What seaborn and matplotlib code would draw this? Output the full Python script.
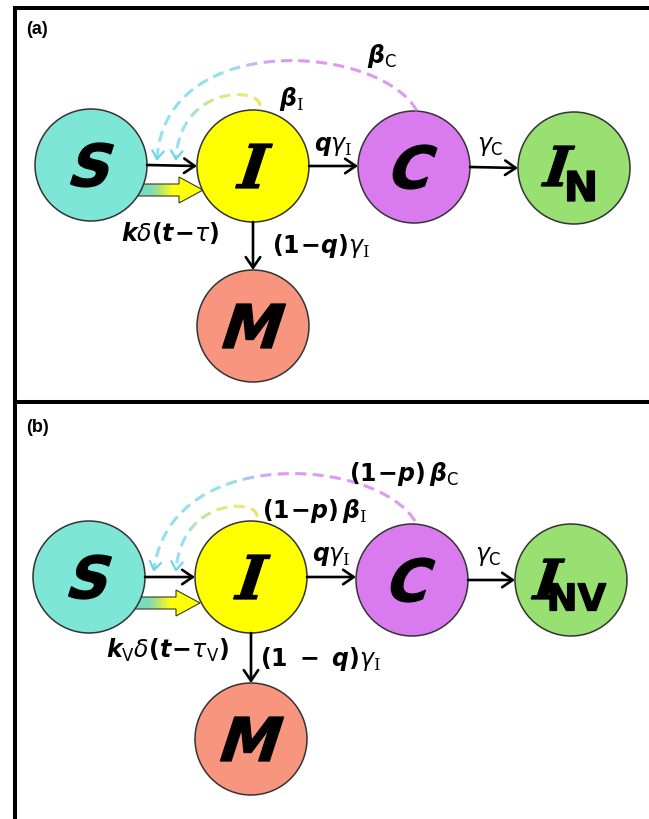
import numpy as np
import pandas as pd
import matplotlib
matplotlib.use("Agg")
import matplotlib.pyplot as plt
import seaborn as sns
from matplotlib.collections import LineCollection
from matplotlib.colors import LinearSegmentedColormap
from matplotlib.patches import Polygon, PathPatch
from matplotlib.textpath import TextPath
from matplotlib.font_manager import FontProperties
from matplotlib.transforms import Affine2D

# ---- compartments of the two model diagrams ----
node_names = ["S", "I", "C", "R", "M"]
node_main = ["S", "I", "C", "I", "M"]
node_sub_a = ["", "", "", "N", ""]
node_sub_b = ["", "", "", "NV", ""]
node_colors = ["#7de6d6", "#ffff00", "#d97bef", "#99e072", "#f8957f"]

node_x_a = [91, 253, 414, 574, 253]
node_y_a = [166, 167, 168, 169, 327]
node_x_b = [89, 251, 412, 571, 251]
node_y_b = [578, 578, 581, 581, 740]

# ---- transition rate labels ----
rates_a = [
    r"$\boldsymbol{\beta}_{\mathrm{C}}$",
    r"$\boldsymbol{\beta}_{\mathsf{I}}$",
    r"$\boldsymbol{q}\gamma_{\mathsf{I}}$",
    r"$\gamma_{\mathrm{C}}$",
    r"$\mathbf{(1\!-\!}\boldsymbol{q}\mathbf{)}\gamma_{\mathsf{I}}$",
    r"$\boldsymbol{k}\delta\mathbf{(}\boldsymbol{t}\mathbf{\!-\!}\tau\mathbf{)}$",
]
rates_b = [
    r"$\mathbf{(1\!-\!}\boldsymbol{p}\mathbf{)}\,\boldsymbol{\beta}_{\mathrm{C}}$",
    r"$\mathbf{(1\!-\!}\boldsymbol{p}\mathbf{)}\,\boldsymbol{\beta}_{\mathsf{I}}$",
    r"$\boldsymbol{q}\gamma_{\mathsf{I}}$",
    r"$\gamma_{\mathrm{C}}$",
    r"$\mathbf{(1\ -\ }\boldsymbol{q}\mathbf{)}\gamma_{\mathsf{I}}$",
    r"$\boldsymbol{k}_{\mathrm{V}}\delta\mathbf{(}\boldsymbol{t}\mathbf{\!-\!}\tau_{\mathrm{V}}\mathbf{)}$",
]
panel_tags = ["(a)", "(b)"]

sns.set_theme(style="white")
plt.rcParams.update({
    "font.family": ["DejaVu Sans"],
    "text.color": "black",
    "mathtext.fontset": "custom",
    "mathtext.rm": "DejaVu Sans",
    "mathtext.it": "DejaVu Sans:italic",
    "mathtext.bf": "DejaVu Sans:bold",
    "mathtext.bfit": "DejaVu Sans:italic:bold",
    "mathtext.sf": "DejaVu Serif",
})

fig = plt.figure(figsize=(6.49, 8.20), dpi=100)
ax = fig.add_axes([0, 0, 1, 1])

CYAN = "#6ed6ea"
PURPLE = "#d274f0"
YEL = "#e8e030"

SANS_B = FontProperties(family="DejaVu Sans", weight="bold")
SERIF_B = FontProperties(family="DejaVu Serif", weight="bold")


def glyph(text, cx, cy, height, prop, slant=0.0):
    """Draw a letter as a filled outline of given cap height centred at (cx, cy)."""
    tp = TextPath((0, 0), text, size=100, prop=prop)
    p = Affine2D().skew_deg(slant, 0).transform_path(tp)
    ext = p.get_extents()
    k = height / ext.height
    tr = (Affine2D().translate(-(ext.x0 + ext.x1) / 2, -(ext.y0 + ext.y1) / 2)
          .scale(k, -k).translate(cx, cy))
    ax.add_patch(PathPatch(tr.transform_path(p), facecolor="black",
                           edgecolor="black", lw=0.9, zorder=4))


def bezier(ctrl, n=700):
    P = np.asarray(ctrl, float)
    t = np.linspace(0, 1, n)[:, None]
    return ((1 - t) ** 3) * P[0] + 3 * ((1 - t) ** 2) * t * P[1] \
        + 3 * (1 - t) * t ** 2 * P[2] + t ** 3 * P[3]


def dashed_arc(ctrl, stops, dash=11.0, gap=6.5, lw=2.1):
    B = bezier(ctrl)
    d = np.linalg.norm(np.diff(B, axis=0), axis=1)
    s = np.concatenate([[0], np.cumsum(d)])
    L = s[-1]
    sm = (s[:-1] + s[1:]) / 2
    on = (sm % (dash + gap)) < dash
    segs = np.stack([B[:-1], B[1:]], axis=1)[on]
    cmap = LinearSegmentedColormap.from_list("arc", stops)
    ax.add_collection(LineCollection(segs, colors=cmap(sm[on] / L),
                                     linewidths=lw, capstyle="butt", zorder=3))
    # open arrowhead at the end of the arc
    tip = B[-1]
    v = B[-1] - B[-25]
    v = v / np.linalg.norm(v)
    for ang in (np.radians(35), -np.radians(35)):
        R = np.array([[np.cos(ang), -np.sin(ang)], [np.sin(ang), np.cos(ang)]])
        p = tip - 10 * (R @ v)
        ax.plot([p[0], tip[0]], [p[1], tip[1]], color=CYAN, lw=1.6,
                solid_capstyle="round", zorder=3)


def arrow(x0, y0, x1, y1):
    ax.annotate("", xy=(x1, y1), xytext=(x0, y0),
                arrowprops=dict(arrowstyle="->,head_length=0.38,head_width=0.26",
                                lw=1.9, color="black", shrinkA=0, shrinkB=0,
                                mutation_scale=20), zorder=3)


def block_arrow(x0, tip_x, tip_y):
    head_x = tip_x - 24
    pts = [(x0, tip_y - 6), (head_x, tip_y - 6), (head_x, tip_y - 13),
           (tip_x, tip_y), (head_x, tip_y + 13), (head_x, tip_y + 6),
           (x0, tip_y + 6)]
    poly = Polygon(pts, closed=True, facecolor="none", edgecolor="#3a3a1a",
                   lw=0.8, zorder=1.6)
    ax.add_patch(poly)
    cmap = LinearSegmentedColormap.from_list(
        "flow", [(0, "#6cdcc8"), (0.22, "#7fdcb8"), (0.34, "#a8e27e"),
                 (0.46, "#e0f040"), (0.56, "#ffff10"), (1, "#ffff00")])
    grad = np.linspace(0, 1, 256)[None, :]
    im = ax.imshow(grad, extent=(x0, tip_x, tip_y + 14, tip_y - 14),
                   cmap=cmap, aspect="auto", zorder=1.5, interpolation="bilinear")
    im.set_clip_path(poly)


def panel(xs, ys, subs, rates, dy, tag, arcs, flow, rate_pos, main_off, sub_off):
    df = pd.DataFrame({"node": node_names, "x": xs, "y": ys})
    sns.scatterplot(data=df, x="x", y="y", hue="node",
                    palette=dict(zip(node_names, node_colors)),
                    s=(112 * 0.72) ** 2, edgecolor="#333333",
                    linewidth=1.1, legend=False, ax=ax, zorder=2)
    # node letters
    for main, sub, x, y in zip(node_main, subs, xs, ys):
        prop = SERIF_B if main == "I" else SANS_B
        if sub:
            glyph(main, x + main_off[0], y + main_off[1], 40, prop, slant=18)
            glyph(sub, x + sub_off[0], y + sub_off[1], sub_off[2], SANS_B)
        else:
            glyph(main, x + 1, y, 44, prop, slant=18)
    # flows between compartments
    S, I, C, R, M = range(5)
    r = 56
    arrow(xs[S] + r, ys[S], xs[I] - r, ys[I])
    arrow(xs[I] + r, ys[I], xs[C] - r, ys[I])
    arrow(xs[C] + r, ys[C], xs[R] - r, ys[R])
    arrow(xs[I], ys[I] + r, xs[M], ys[M] - r)
    block_arrow(*flow)
    # infection pressure arcs
    dashed_arc(arcs[0], [(0, PURPLE), (0.47, PURPLE), (0.62, CYAN), (1, CYAN)])
    dashed_arc(arcs[1], [(0, YEL), (0.28, "#dde23a"), (0.5, "#a8dc6a"),
                         (0.72, CYAN), (1, CYAN)])
    for lab, (lx, ly) in zip(rates, rate_pos):
        ax.text(lx, ly, lab, fontsize=17, ha="center", va="center", zorder=4)
    ax.text(26, dy, tag, fontsize=13, weight="bold", ha="left",
            va="center", family="Liberation Sans", zorder=4)


panel(node_x_a, node_y_a, node_sub_a, rates_a, 29, panel_tags[0],
      arcs=[[(417, 112), (380, 45), (165, 30), (157, 160)],
            [(260, 107), (262, 88), (180, 85), (176, 160)]],
      flow=(136, 203, 191),
      rate_pos=[(382, 56), (292, 99), (333, 146), (490, 146),
                (321, 246), (170, 233)],
      main_off=(-16, -2), sub_off=(7, 18, 30))

panel(node_x_b, node_y_b, node_sub_b, rates_b, 428, panel_tags[1],
      arcs=[[(415, 522), (375, 458), (170, 445), (154, 571)],
            [(257, 518), (260, 500), (182, 497), (176, 571)]],
      flow=(134, 200, 604),
      rate_pos=[(404, 474), (314, 511), (331, 556), (488, 556),
                (320, 659), (167, 650)],
      main_off=(-23, -1), sub_off=(7, 17, 27))

# panel frames
for y in (9, 403):
    ax.plot([13, 649], [y, y], color="black", lw=2.9, solid_capstyle="butt",
            zorder=5)
ax.plot([15, 15], [7, 820], color="black", lw=2.9, solid_capstyle="butt",
        zorder=5)

ax.set_xlim(0, 649)
ax.set_ylim(820, 0)
ax.axis("off")
fig.savefig("out.png", dpi=100, facecolor="white")
